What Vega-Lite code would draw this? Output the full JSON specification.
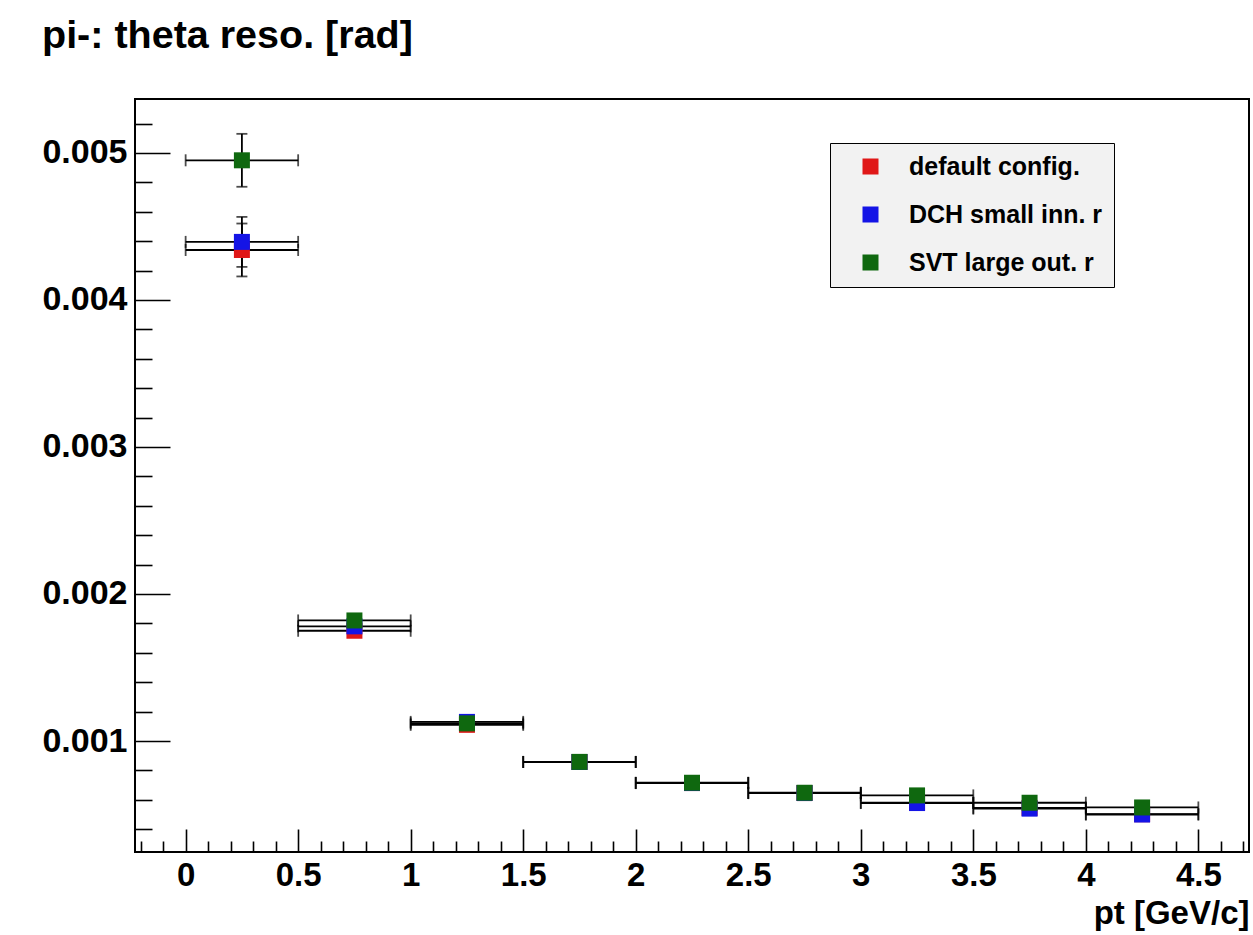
{
  "$schema": "https://vega.github.io/schema/vega-lite/v6.json",
  "width": 1114,
  "height": 753,
  "autosize": "none",
  "padding": {"left": 135, "top": 99, "right": 4, "bottom": 83},
  "background": "white",
  "title": {"text": "pi-: theta reso. [rad]", "anchor": "start", "frame": "group", "dx": -93, "offset": 12, "baseline": "alphabetic", "font": "Liberation Sans", "fontSize": 39.5, "fontWeight": "bold", "color": "black"},
  "config": {
    "view": {"stroke": "black", "strokeWidth": 2},
    "axis": {"grid": false, "labelFont": "Liberation Sans", "labelFontWeight": "bold", "labelColor": "black", "titleFont": "Liberation Sans", "titleFontWeight": "bold", "titleColor": "black", "tickColor": "black", "tickWidth": 1.6, "domain": false},
    "legend": {"orient": "none", "legendX": 695, "legendY": 44, "fillColor": "#f2f2f2", "strokeColor": "black", "padding": 11, "symbolOffset": 17, "symbolType": "square", "symbolSize": 256, "symbolStrokeWidth": 0, "labelFont": "Liberation Sans", "labelFontSize": 25, "labelFontWeight": "bold", "labelColor": "black", "labelOffset": 26, "rowPadding": 22, "labelLimit": 400}
  },
  "data": {"values": [
    {"series": "default config.", "pt": 0.25, "xlo": 0, "xhi": 0.5, "val": 0.00434, "ylo": 0.00416, "yhi": 0.00452},
    {"series": "default config.", "pt": 0.75, "xlo": 0.5, "xhi": 1.0, "val": 0.00175, "ylo": 0.00172, "yhi": 0.00178},
    {"series": "default config.", "pt": 1.25, "xlo": 1.0, "xhi": 1.5, "val": 0.00111, "ylo": 0.00109, "yhi": 0.00113},
    {"series": "default config.", "pt": 1.75, "xlo": 1.5, "xhi": 2.0, "val": 0.000857, "ylo": 0.000842, "yhi": 0.000872},
    {"series": "default config.", "pt": 2.25, "xlo": 2.0, "xhi": 2.5, "val": 0.000714, "ylo": 0.000702, "yhi": 0.000726},
    {"series": "default config.", "pt": 2.75, "xlo": 2.5, "xhi": 3.0, "val": 0.000646, "ylo": 0.000636, "yhi": 0.000656},
    {"series": "default config.", "pt": 3.25, "xlo": 3.0, "xhi": 3.5, "val": 0.00058, "ylo": 0.00057, "yhi": 0.00059},
    {"series": "default config.", "pt": 3.75, "xlo": 3.5, "xhi": 4.0, "val": 0.000545, "ylo": 0.000535, "yhi": 0.000555},
    {"series": "default config.", "pt": 4.25, "xlo": 4.0, "xhi": 4.5, "val": 0.000502, "ylo": 0.000492, "yhi": 0.000512},
    {"series": "DCH small inn. r", "pt": 0.25, "xlo": 0, "xhi": 0.5, "val": 0.004395, "ylo": 0.004225, "yhi": 0.004565},
    {"series": "DCH small inn. r", "pt": 0.75, "xlo": 0.5, "xhi": 1.0, "val": 0.00178, "ylo": 0.00175, "yhi": 0.00181},
    {"series": "DCH small inn. r", "pt": 1.25, "xlo": 1.0, "xhi": 1.5, "val": 0.00113, "ylo": 0.00111, "yhi": 0.00115},
    {"series": "DCH small inn. r", "pt": 1.75, "xlo": 1.5, "xhi": 2.0, "val": 0.000857, "ylo": 0.000842, "yhi": 0.000872},
    {"series": "DCH small inn. r", "pt": 2.25, "xlo": 2.0, "xhi": 2.5, "val": 0.000714, "ylo": 0.000702, "yhi": 0.000726},
    {"series": "DCH small inn. r", "pt": 2.75, "xlo": 2.5, "xhi": 3.0, "val": 0.000646, "ylo": 0.000636, "yhi": 0.000656},
    {"series": "DCH small inn. r", "pt": 3.25, "xlo": 3.0, "xhi": 3.5, "val": 0.000578, "ylo": 0.000568, "yhi": 0.000588},
    {"series": "DCH small inn. r", "pt": 3.75, "xlo": 3.5, "xhi": 4.0, "val": 0.00054, "ylo": 0.00053, "yhi": 0.00055},
    {"series": "DCH small inn. r", "pt": 4.25, "xlo": 4.0, "xhi": 4.5, "val": 0.0005, "ylo": 0.00049, "yhi": 0.00051},
    {"series": "SVT large out. r", "pt": 0.25, "xlo": 0, "xhi": 0.5, "val": 0.00495, "ylo": 0.00477, "yhi": 0.00513},
    {"series": "SVT large out. r", "pt": 0.75, "xlo": 0.5, "xhi": 1.0, "val": 0.00182, "ylo": 0.00179, "yhi": 0.00185},
    {"series": "SVT large out. r", "pt": 1.25, "xlo": 1.0, "xhi": 1.5, "val": 0.00112, "ylo": 0.0011, "yhi": 0.00114},
    {"series": "SVT large out. r", "pt": 1.75, "xlo": 1.5, "xhi": 2.0, "val": 0.000858, "ylo": 0.000843, "yhi": 0.000873},
    {"series": "SVT large out. r", "pt": 2.25, "xlo": 2.0, "xhi": 2.5, "val": 0.000716, "ylo": 0.000704, "yhi": 0.000728},
    {"series": "SVT large out. r", "pt": 2.75, "xlo": 2.5, "xhi": 3.0, "val": 0.000648, "ylo": 0.000638, "yhi": 0.000658},
    {"series": "SVT large out. r", "pt": 3.25, "xlo": 3.0, "xhi": 3.5, "val": 0.00063, "ylo": 0.00062, "yhi": 0.00064},
    {"series": "SVT large out. r", "pt": 3.75, "xlo": 3.5, "xhi": 4.0, "val": 0.00058, "ylo": 0.00057, "yhi": 0.00059},
    {"series": "SVT large out. r", "pt": 4.25, "xlo": 4.0, "xhi": 4.5, "val": 0.000548, "ylo": 0.000538, "yhi": 0.000558}
  ]},
  "layer": [
    {
      "mark": {"type": "rule", "color": "black", "strokeWidth": 1.8},
      "encoding": {
        "x": {"field": "xlo", "type": "quantitative", "scale": {"domain": [-0.225, 4.725], "nice": false, "zero": false},
              "axis": {"orient": "bottom", "values": [0, 0.5, 1, 1.5, 2, 2.5, 3, 3.5, 4, 4.5], "format": "~g", "ticks": false, "labelFontSize": 33, "labelPadding": 7, "title": "pt [GeV/c]", "titleAnchor": "end", "titleFontSize": 33, "titlePadding": 5}},
        "x2": {"field": "xhi"},
        "y": {"field": "val", "type": "quantitative", "scale": {"domain": [0.000245, 0.005367], "nice": false, "zero": false},
              "axis": {"orient": "left", "values": [0.001, 0.002, 0.003, 0.004, 0.005], "format": ".3f", "ticks": false, "labelFontSize": 34, "labelPadding": 8, "title": null}}
      }
    },
    {
      "mark": {"type": "tick", "orient": "vertical", "color": "black", "size": 12, "thickness": 1.8},
      "encoding": {
        "x": {"field": "xlo", "type": "quantitative",
              "axis": {"orient": "bottom", "values": [0, 0.5, 1, 1.5, 2, 2.5, 3, 3.5, 4, 4.5], "labels": false, "tickSize": -23, "title": null}},
        "y": {"field": "val", "type": "quantitative",
              "axis": {"orient": "left", "values": [0.001, 0.002, 0.003, 0.004, 0.005], "labels": false, "tickSize": -35, "title": null}}
      }
    },
    {
      "mark": {"type": "tick", "orient": "vertical", "color": "black", "size": 12, "thickness": 1.8},
      "encoding": {
        "x": {"field": "xhi", "type": "quantitative",
              "axis": {"orient": "bottom", "values": [-0.2, -0.1, 0.1, 0.2, 0.3, 0.4, 0.6, 0.7, 0.8, 0.9, 1.1, 1.2, 1.3, 1.4, 1.6, 1.7, 1.8, 1.9, 2.1, 2.2, 2.3, 2.4, 2.6, 2.7, 2.8, 2.9, 3.1, 3.2, 3.3, 3.4, 3.6, 3.7, 3.8, 3.9, 4.1, 4.2, 4.3, 4.4, 4.6, 4.7], "labels": false, "tickSize": -11, "title": null}},
        "y": {"field": "val", "type": "quantitative",
              "axis": {"orient": "left", "values": [0.0004, 0.0006, 0.0008, 0.0012, 0.0014, 0.0016, 0.0018, 0.0022, 0.0024, 0.0026, 0.0028, 0.0032, 0.0034, 0.0036, 0.0038, 0.0042, 0.0044, 0.0046, 0.0048, 0.0052], "labels": false, "tickSize": -17, "title": null}}
      }
    },
    {
      "mark": {"type": "rule", "color": "black", "strokeWidth": 1.8},
      "encoding": {
        "x": {"field": "pt", "type": "quantitative", "axis": null},
        "y": {"field": "ylo", "type": "quantitative", "axis": null},
        "y2": {"field": "yhi"}
      }
    },
    {
      "mark": {"type": "tick", "orient": "horizontal", "color": "black", "size": 11, "thickness": 1.8},
      "encoding": {
        "x": {"field": "pt", "type": "quantitative", "axis": null},
        "y": {"field": "ylo", "type": "quantitative", "axis": null}
      }
    },
    {
      "mark": {"type": "tick", "orient": "horizontal", "color": "black", "size": 11, "thickness": 1.8},
      "encoding": {
        "x": {"field": "pt", "type": "quantitative", "axis": null},
        "y": {"field": "yhi", "type": "quantitative", "axis": null}
      }
    },
    {
      "mark": {"type": "square", "filled": true, "size": 256, "opacity": 1},
      "encoding": {
        "x": {"field": "pt", "type": "quantitative", "axis": null},
        "y": {"field": "val", "type": "quantitative", "axis": null},
        "color": {"field": "series", "type": "nominal",
                  "scale": {"domain": ["default config.", "DCH small inn. r", "SVT large out. r"], "range": ["#e01818", "#1414e6", "#0f680f"]},
                  "legend": {"title": null}}
      }
    }
  ],
  "resolve": {"axis": {"x": "independent", "y": "independent"}}
}
